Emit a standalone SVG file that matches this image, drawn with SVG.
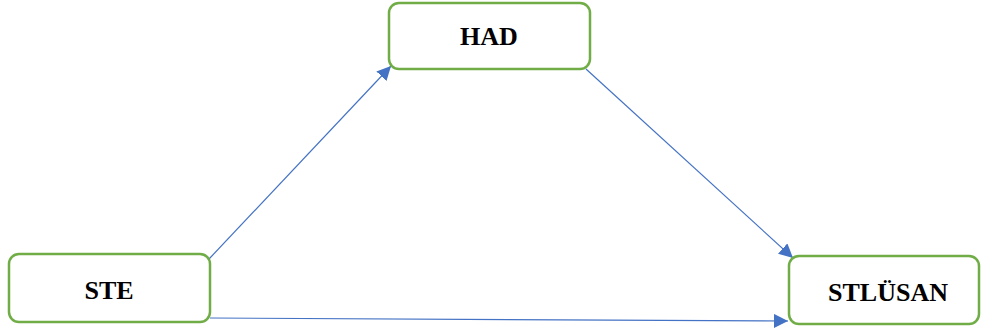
<svg xmlns="http://www.w3.org/2000/svg" width="981" height="329" viewBox="0 0 981 329">
<style>
.box{fill:#fff;stroke:#70AD47;stroke-width:2.5}
.lbl{font-family:"Liberation Serif","Times New Roman",serif;font-weight:bold;font-size:26px;fill:#000;text-anchor:middle}
.edge{stroke:#4472C4;stroke-width:1.2;fill:none}
</style>
<defs>
<marker id="arr" viewBox="0 0 10 10" refX="10" refY="5" markerWidth="14" markerHeight="14" markerUnits="userSpaceOnUse" orient="auto">
<path d="M0,0 L10,5 L0,10 z" fill="#4472C4"/>
</marker>
</defs>
<g id="connectors">
<line class="edge" x1="209" y1="259" x2="391" y2="66" marker-end="url(#arr)"/>
<line class="edge" x1="586" y1="69" x2="793" y2="258" marker-end="url(#arr)"/>
<line class="edge" x1="210" y1="318" x2="788" y2="321" marker-end="url(#arr)"/>
</g>
<g id="had">
<rect class="box" x="389" y="3" width="201" height="66" rx="10"/>
<text class="lbl" x="489" y="45">HAD</text>
</g>
<g id="ste">
<rect class="box" x="9" y="254" width="201" height="68" rx="10"/>
<text class="lbl" x="109" y="299">STE</text>
</g>
<g id="stlusan">
<rect class="box" x="789" y="256" width="190" height="68" rx="10"/>
<text class="lbl" x="888" y="300.5">STLÜSAN</text>
</g>
</svg>
